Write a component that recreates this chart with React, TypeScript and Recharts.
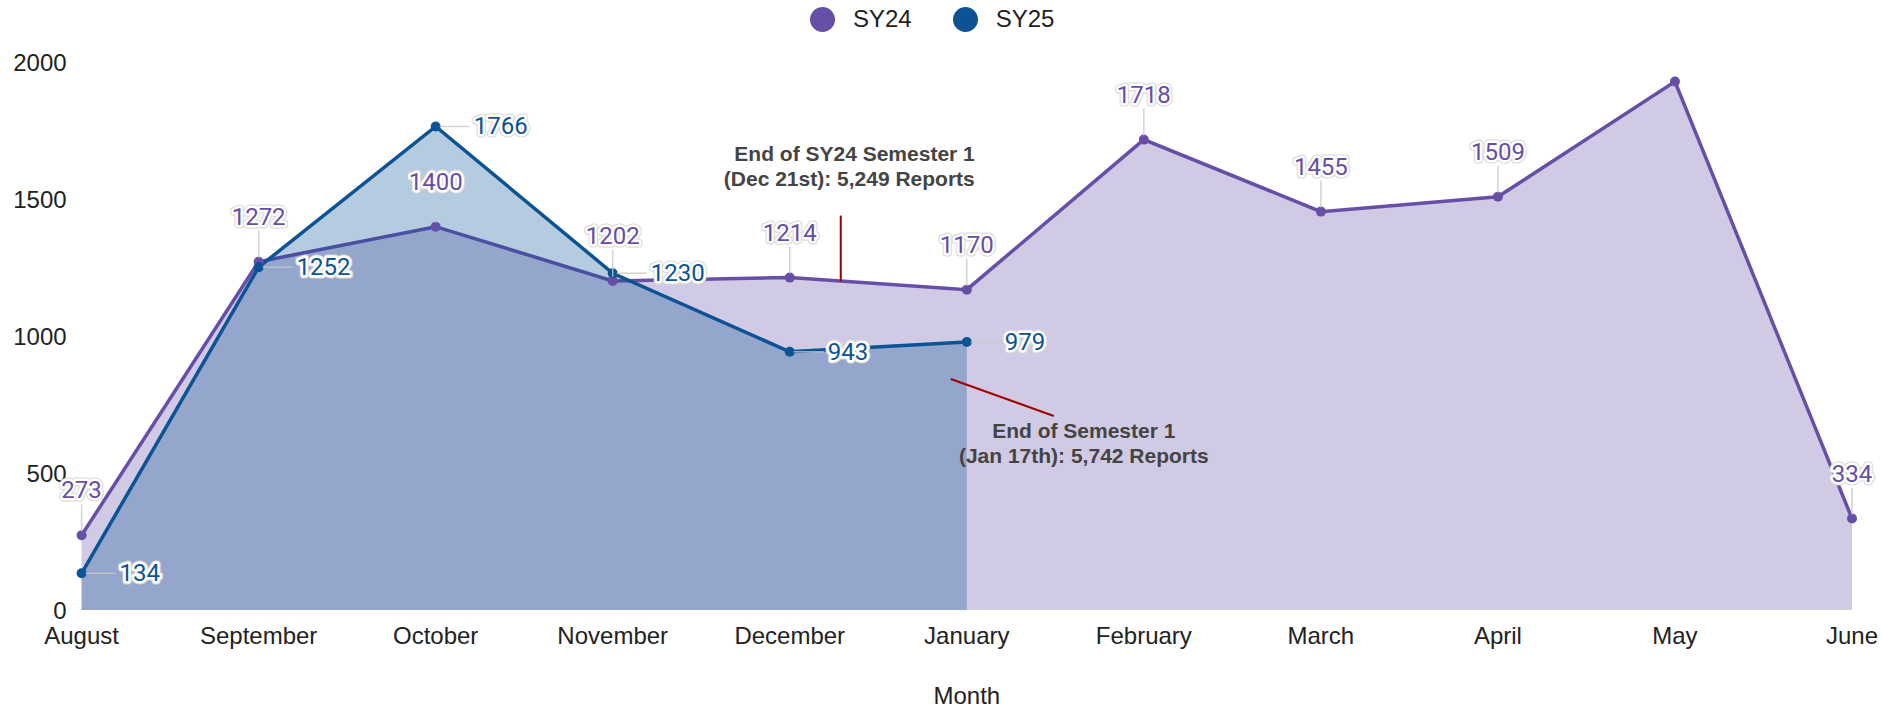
import { AreaChart, Area, Line, XAxis, YAxis, Legend, LabelList, Label, ReferenceDot } from 'recharts'

const months = ['August', 'September', 'October', 'November', 'December', 'January', 'February', 'March', 'April', 'May', 'June']
const sy24 = [273, 1272, 1400, 1202, 1214, 1170, 1718, 1455, 1509, 1930, 334]
const sy25 = [134, 1252, 1766, 1230, 943, 979, null, null, null, null, null]
const yTicks = [0, 500, 1000, 1500, 2000]
// sheets dropped the May label (it collided with the top), keep it hidden here too
const hiddenSy24Labels = ['May']

const SY24_COLOR = '#674ea7'
const SY25_COLOR = '#0b5394'
const NOTE_RED = '#a00000'

const series = [
  { key: 'sy24', name: 'SY24', color: SY24_COLOR },
  { key: 'sy25', name: 'SY25', color: SY25_COLOR },
]

const data = months.map((month, i) => ({ month, sy24: sy24[i], sy25: sy25[i] }))

const labelBase = {
  fontFamily: 'Roboto, sans-serif',
  fontSize: 24,
  strokeLinejoin: 'round' as const,
  paintOrder: 'stroke' as const,
}

// value text with a white halo and a faint grey rim, like the sheets labels
function HaloText({ x, y, anchor, color, children }: any) {
  return (
    <g>
      <text x={x} y={y} textAnchor={anchor} dominantBaseline="central" fill="#fff" stroke="#d6d6d6" strokeWidth={7} style={labelBase}>
        {children}
      </text>
      <text x={x} y={y} textAnchor={anchor} dominantBaseline="central" fill={color} stroke="#fff" strokeWidth={5} style={labelBase}>
        {children}
      </text>
    </g>
  )
}

function Sy24Label(props: any) {
  const { x, y, value, index } = props
  if (value == null || hiddenSy24Labels.includes(months[index])) return null
  return (
    <g>
      <line x1={x} y1={y - 4} x2={x} y2={y - 31} stroke="#c8c8c8" strokeOpacity={0.8} strokeWidth={1.5} />
      <HaloText x={x} y={y - 45} anchor="middle" color={SY24_COLOR}>{value}</HaloText>
    </g>
  )
}

function Sy25Label(props: any) {
  const { x, y, value } = props
  if (value == null) return null
  return (
    <g>
      <line x1={x + 4} y1={y} x2={x + 34} y2={y} stroke="#c8c8c8" strokeOpacity={0.8} strokeWidth={1.5} />
      <HaloText x={x + 38} y={y} anchor="start" color={SY25_COLOR}>{value}</HaloText>
    </g>
  )
}

const noteText = {
  fontFamily: '"Liberation Sans", Arial, sans-serif',
  fontSize: 21,
  fontWeight: 700,
  fill: '#444444',
}

function Sy24Note({ cx, cy }: any) {
  return (
    <g>
      <line x1={cx + 51} y1={cy + 4} x2={cx + 51} y2={cy - 62} stroke={NOTE_RED} strokeWidth={2} />
      <text x={cx + 185} y={cy - 117} textAnchor="end" style={noteText}>End of SY24 Semester 1</text>
      <text x={cx + 185} y={cy - 92} textAnchor="end" style={noteText}>(Dec 21st): 5,249 Reports</text>
    </g>
  )
}

function Sy25Note({ cx, cy }: any) {
  return (
    <g>
      <line x1={cx - 16} y1={cy + 37} x2={cx + 87} y2={cy + 74} stroke={NOTE_RED} strokeWidth={2} />
      <text x={cx + 117} y={cy + 96} textAnchor="middle" style={noteText}>End of Semester 1</text>
      <text x={cx + 117} y={cy + 121} textAnchor="middle" style={noteText}>(Jan 17th): 5,742 Reports</text>
    </g>
  )
}

function LegendContent() {
  return (
    <div style={{ display: 'flex', alignItems: 'center', height: 38, paddingLeft: 810, fontSize: 24, color: '#222' }}>
      {series.map((s) => (
        <div key={s.key} style={{ display: 'flex', alignItems: 'center', marginRight: 41 }}>
          <span style={{ width: 25, height: 25, borderRadius: '50%', background: s.color, marginRight: 18 }} />
          <span>{s.name}</span>
        </div>
      ))}
    </div>
  )
}

export default function App() {
  return (
    <div style={{ position: 'absolute', top: 0, left: 0, fontFamily: '"Liberation Sans", Arial, sans-serif', background: '#fff' }}>
      <AreaChart width={1882} height={709} data={data} margin={{ top: 24.4, right: 30, left: 0, bottom: 0 }}>
        <XAxis
          dataKey="month"
          interval={0}
          axisLine={false}
          tickLine={false}
          tickSize={0}
          tickMargin={17}
          height={99}
          tick={{ fontSize: 24, fill: '#222' }}
        >
          <Label value="Month" position="insideBottom" offset={5} style={{ fontSize: 24, fill: '#222' }} />
        </XAxis>
        <YAxis
          domain={[0, 2000]}
          ticks={yTicks}
          width={81.6}
          axisLine={false}
          tickLine={false}
          tickSize={0}
          tickMargin={15}
          tick={{ fontSize: 24, fill: '#222' }}
        />
        <Legend verticalAlign="top" content={<LegendContent />} wrapperStyle={{ top: 0, left: 0, width: 1882, height: 38 }} />
        <Area
          type="linear"
          dataKey="sy24"
          name="SY24"
          stroke={SY24_COLOR}
          strokeWidth={3.5}
          fill={SY24_COLOR}
          fillOpacity={0.3}
          dot={{ r: 5, fill: SY24_COLOR, fillOpacity: 1, stroke: SY24_COLOR, strokeWidth: 0 }}
          activeDot={false}
          isAnimationActive={false}
        />
        <Area
          type="linear"
          dataKey="sy25"
          name="SY25"
          stroke={SY25_COLOR}
          strokeWidth={3.5}
          fill={SY25_COLOR}
          fillOpacity={0.3}
          dot={{ r: 5, fill: SY25_COLOR, fillOpacity: 1, stroke: SY25_COLOR, strokeWidth: 0 }}
          activeDot={false}
          isAnimationActive={false}
        />
        {/* labels go on separate invisible lines so they sit above both fills */}
        <Line dataKey="sy24" stroke="none" dot={false} activeDot={false} legendType="none" isAnimationActive={false}>
          <LabelList dataKey="sy24" content={<Sy24Label />} />
        </Line>
        <Line dataKey="sy25" stroke="none" dot={false} activeDot={false} legendType="none" isAnimationActive={false}>
          <LabelList dataKey="sy25" content={<Sy25Label />} />
        </Line>
        <ReferenceDot x="December" y={sy24[4]} r={0} shape={(p: any) => <Sy24Note cx={p.cx} cy={p.cy} />} />
        <ReferenceDot x="January" y={sy25[5] as number} r={0} shape={(p: any) => <Sy25Note cx={p.cx} cy={p.cy} />} />
      </AreaChart>
    </div>
  )
}
